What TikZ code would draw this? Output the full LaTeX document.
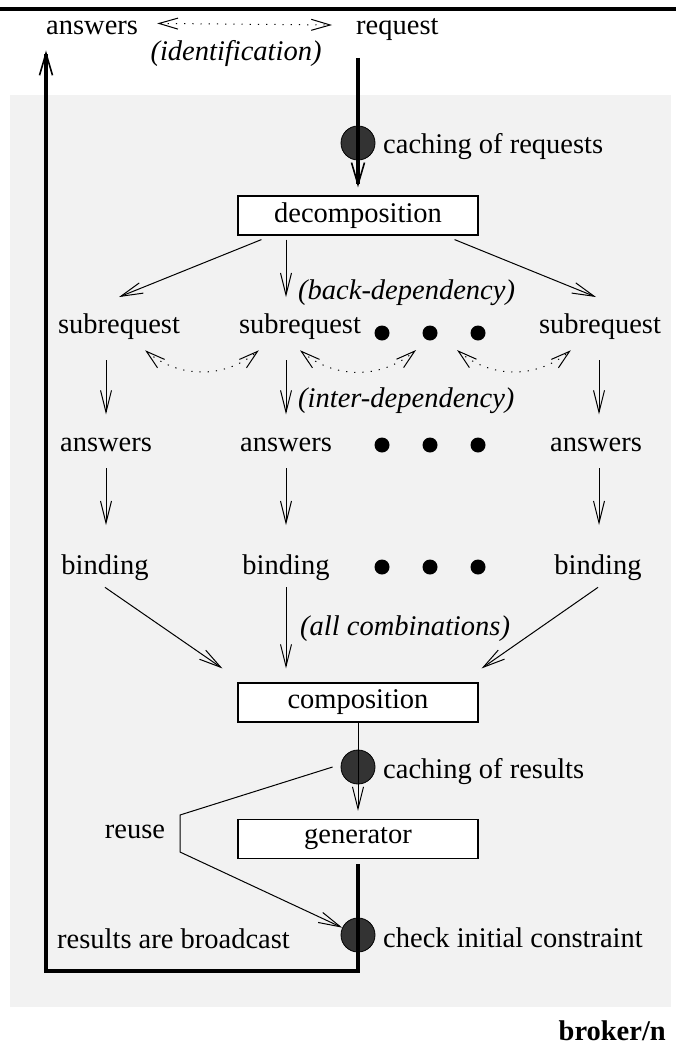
\documentclass[tikz,border=0pt]{standalone}
\usepackage{fontspec}
\setmainfont{Liberation Serif}
\usetikzlibrary{arrows.meta, positioning, calc}
\definecolor{panelgray}{RGB}{242,242,242}
\definecolor{cachegray}{RGB}{51,51,51}
\newcommand\figfont{\fontsize{28.5}{34}\selectfont}

\tikzset{
  lbl/.style={inner sep=0pt, anchor=base, font=\figfont},
  lblw/.style={lbl, anchor=base west},
  note/.style={lblw, font=\figfont\itshape},
  stage/.style={draw, fill=white, line width=1.2pt, minimum width=240pt,
    minimum height=39pt, inner sep=0pt, font=\figfont},
  cache/.style={circle, draw, line width=0.8pt, fill=cachegray,
    minimum size=34pt, inner sep=0pt},
  dot/.style={circle, fill=black, minimum size=15pt, inner sep=0pt},
  arr/.style={line width=1pt, -{Straight Barb[length=22pt, width=11pt]}},
  heavy/.style={line width=4.5pt, line join=miter,
    -{Straight Barb[length=22pt, width=13pt, line width=1.6pt]}},
  dep/.style={line width=1pt, dash pattern=on 1.2pt off 7pt,
    {Straight Barb[length=19pt, width=11pt]}-{Straight Barb[length=19pt, width=11pt]}},
}

\begin{document}
\begin{tikzpicture}[x=1pt, y=-1pt]
  \useasboundingbox (0,0) rectangle (676,1057);
  % panel and top rule
  \fill[panelgray] (10,95) rectangle (671,1007);
  \draw[line width=4pt] (0,9) -- (676,9);

  % top line
  \node[lblw] (ans0) at (46,35) {answers};
  \node[lblw] (req) at (356,35) {request};
  \node[note, anchor=base] (ident) at (236,60) {(identification)};
  \coordinate (reqtop) at (358,58);

  % decomposition
  \node[cache] (cache1) at (358,143) {};
  \node[lblw] (cache1lbl) at (383,153) {caching of requests};
  \node[stage] (dec) at (358,215.5) {decomposition};
  \node[note] (backdep) at (298,299) {(back-dependency)};

  % columns
  \coordinate (col1) at (106,0);
  \coordinate (col2) at (286,0);
  \coordinate (col3) at (599,0);

  \node[lbl] (sr1) at (119,333) {subrequest};
  \node[lbl] (sr2) at (300,333) {subrequest};
  \node[lbl] (sr3) at (600,333) {subrequest};
  \node[note] (interdep) at (298,407) {(inter-dependency)};
  \node[lbl] (ans1) at (106,451) {answers};
  \node[lbl] (ans2) at (286,451) {answers};
  \node[lbl] (ans3) at (596,451) {answers};
  \node[lbl] (bind1) at (105,574) {binding};
  \node[lbl] (bind2) at (286,574) {binding};
  \node[lbl] (bind3) at (598,574) {binding};
  \foreach \y/\r in {333/1, 445/2, 567/3}
    \foreach \x/\c in {382/a, 430/b, 478/c}
      \node[dot] (dot\r\c) at (\x,\y) {};
  \node[note] (allcomb) at (300,635) {(all combinations)};

  % composition and generator
  \node[stage] (comp) at (358,702.5) {composition};
  \node[cache] (cache2) at (358,767) {};
  \node[lblw] (cache2lbl) at (383,778) {caching of results};
  \node[lbl] (reuse) at (135,838) {reuse};
  \node[stage] (gen) at (358,839) {generator};
  \node[cache] (check) at (358,935) {};
  \node[lblw] (checklbl) at (383,947) {check initial constraint};
  \node[lblw] (bcast) at (57,948) {results are broadcast};
  \node[lbl, anchor=base east, font=\figfont\bfseries] (tag) at (666,1040) {broker/n};
  \coordinate (bendA) at (180,815);
  \coordinate (bendB) at (180,852);
  \coordinate (loopSE) at (358,971);
  \coordinate (loopSW) at (46,971);

  % connectors
  \draw[dep] ([xshift=19pt, yshift=5pt]ans0.east) -- ([xshift=-24pt, yshift=5pt]req.west);
  \draw[heavy, shorten >=8pt] (reqtop) -- (dec.north);
  \draw[arr] ([xshift=24pt, yshift=-4pt]dec.south west) -- ([yshift=16pt]sr1.north);
  \draw[arr, shorten <=4pt, shorten >=16pt] (dec.south -| col2) -- (sr2.north -| col2);
  \draw[arr] ([xshift=-24pt, yshift=-4pt]dec.south east) -- ([xshift=-4pt, yshift=16pt]sr3.north);

  \draw[dep] ([xshift=-35pt, yshift=-11pt]sr1.south east) to[bend right=40] ([xshift=20pt, yshift=-11pt]sr2.south west);
  \draw[dep] ([yshift=-11pt]sr2.south) to[bend right=40] ([xshift=-14pt, yshift=-17pt]dot1b.center);
  \draw[dep] ([xshift=-21pt, yshift=-17pt]dot1c.center) to[bend right=40] ([xshift=32pt, yshift=-11pt]sr3.south west);

  \foreach \i in {1,2,3} {
    \draw[arr, shorten <=21pt, shorten >=23pt] (sr\i.south -| col\i) -- (ans\i.north -| col\i);
    \draw[arr, shorten <=17pt, shorten >=29pt] (ans\i.south -| col\i) -- (bind\i.north -| col\i);
  }

  \draw[arr] ([yshift=-7pt]bind1.south) -- ([xshift=-15pt, yshift=14pt]comp.north west);
  \draw[arr, shorten <=7pt, shorten >=14pt] (bind2.south -| col2) -- (comp.north -| col2);
  \draw[arr] ([yshift=-7pt]bind3.south) -- ([xshift=3pt, yshift=14pt]comp.north east);

  \draw[arr, shorten >=8pt] (comp.south) -- (gen.north);
  \draw[arr] ([xshift=-8pt]cache2.west) -- (bendA) -- (bendB) -- (check);
  \draw[heavy, shorten <=5pt, shorten >=15pt] (gen.south) -- (loopSE) -- (loopSW) -- (loopSW |- ans0.south);
\end{tikzpicture}
\end{document}
